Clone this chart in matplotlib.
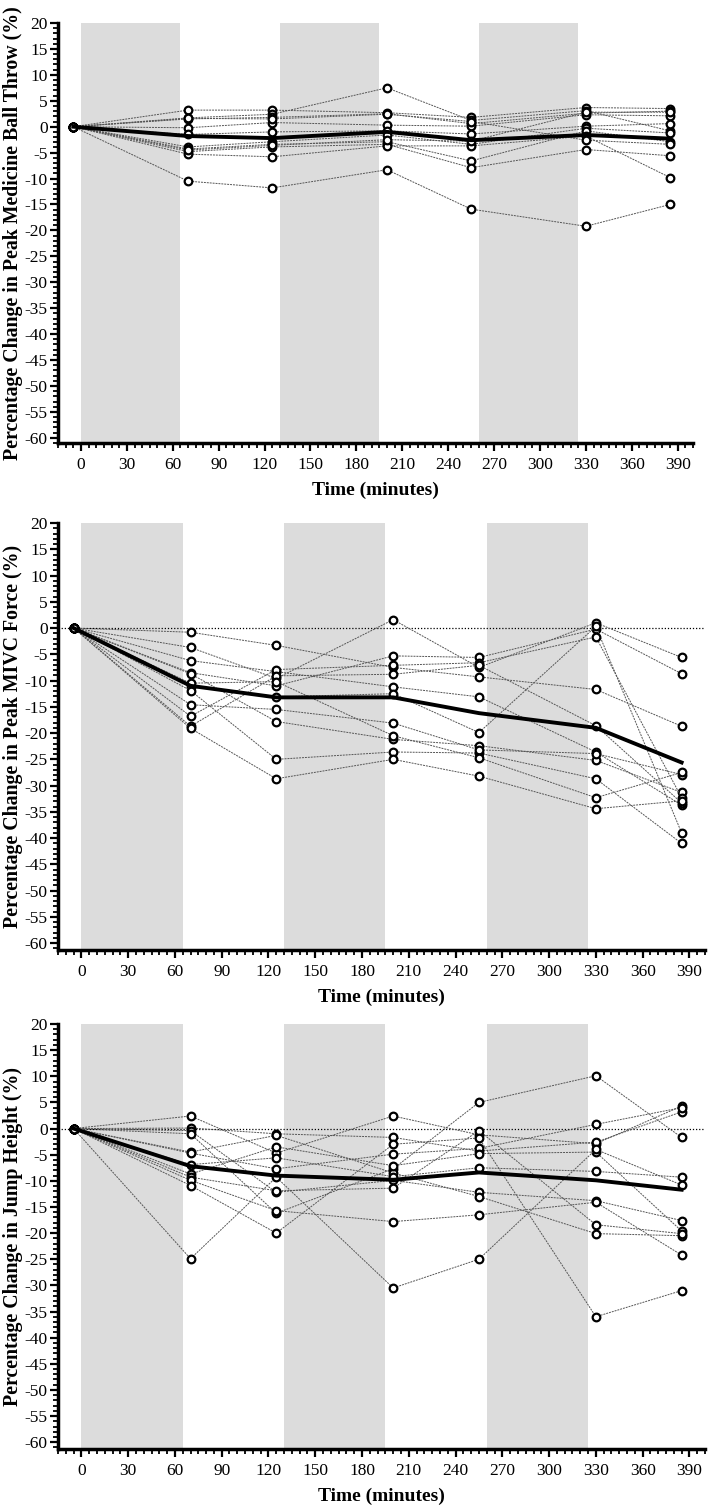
"""
Fatigue time-course panels: individual and mean percentage change.
"""
import numpy as np
import matplotlib
matplotlib.use('Agg')
import matplotlib.pyplot as plt
from matplotlib.ticker import MultipleLocator

# time points (minutes), baseline drawn just left of 0
tims = [-5, 70, 125, 200, 255, 330, 385]
xTicks = list(range(0, 391, 30))
yTicks = list(range(-60, 21, 5))
bouts = [(0, 65), (130, 195), (260, 325)]

# rows = time points, cols = participants
mbtInd = [
    [0] * 12,
    [3.2, 1.7, 1.5, -0.2, -1.5, -3.9, -4.3, -4.8, -5.3, -10.5, 1.6, -4.5],
    [3.2, 2.4, 1.8, 0.8, -1.0, -2.9, -3.4, -3.9, -5.8, -11.8, 1.5, -3.6],
    [2.7, 7.5, 2.5, 0.3, -0.8, -1.6, -2.9, -3.4, -3.7, -8.3, 2.4, -2.5],
    [1.8, 1.2, 0.6, 0.1, -1.4, -3.4, -6.6, -7.9, -3.7, -15.9, 1.0, -2.8],
    [3.7, 3.1, 2.6, 2.3, 0.1, -0.3, -0.8, -4.4, -1.8, -19.2, -2.6, 2.8],
    [3.5, -0.8, 3.0, 2.1, 0.6, -1.2, -2.9, -5.6, -9.8, -15.0, -3.4, 2.8],
]
mbtMean = [0, -1.8, -2.2, -1.0, -2.6, -1.6, -2.3]

mivcInd = [
    [0] * 12,
    [-0.8, -3.7, -6.2, -8.5, -8.7, -11.2, -11.9, -14.6, -16.8, -18.7, -19.1, -10.5],
    [-3.3, -9.6, -8.3, -11.0, -17.8, -13.1, -25.0, -15.5, -7.9, -9.1, -28.7, -10.2],
    [-7.5, 1.6, -11.2, -5.3, -21.2, -12.5, -23.6, -18.1, -7.1, -8.8, -25.0, -20.5],
    [-9.3, -7.5, -13.1, -5.6, -22.4, -19.9, -23.8, -23.2, -6.6, -7.1, -28.2, -24.7],
    [-11.7, 1.0, -23.6, -0.2, -25.2, 0.3, -28.7, -23.9, -1.7, -18.6, -34.4, -32.3],
    [-18.7, -5.6, -33.7, -8.7, -31.3, -39.0, -41.0, -27.9, -32.3, -33.3, -32.9, -27.5],
]
mivcMean = [0, -11.0, -13.2, -13.2, -16.2, -19.0, -25.6]

jmpInd = [
    [0] * 12,
    [2.4, 0.1, -0.4, -1.0, -4.5, -4.7, -6.9, -8.7, -9.3, -9.9, -10.9, -24.9],
    [-4.7, -1.0, -12.2, -16.2, -1.3, -7.7, -5.6, -3.5, -11.9, -15.7, -20.0, -9.3],
    [2.4, -1.7, -9.9, -7.7, -8.5, -4.9, -9.2, -7.1, -11.4, -17.8, -3.0, -30.5],
    [-1.2, -4.3, -12.2, 5.0, -13.0, -3.8, -7.5, -4.8, -0.4, -16.5, -1.8, -25.0],
    [-2.9, -2.6, -13.8, 10.1, -20.1, 0.8, -8.2, -4.5, -18.4, -14.1, -36.0, -4.0],
    [4.3, 3.2, -17.6, -1.7, -20.5, 4.0, -9.3, -19.6, -20.1, -24.2, -31.0, -10.8],
]
jmpMean = [0, -7.2, -9.0, -9.8, -8.4, -9.9, -11.7]

yLabs = ['Percentage Change in Peak Medicine Ball Throw (%)',
         'Percentage Change in Peak MIVC Force (%)',
         'Percentage Change in Jump Height (%)']

plt.rcParams['font.family'] = ['Liberation Serif', 'DejaVu Serif']
plt.rcParams['axes.unicode_minus'] = False


def shPanel(ax, ind, mean, yLab, zeroLn=False):
    """
    Show one panel.

    Input
      ax      -  axes
      ind     -  individual values, nT x nP
      mean    -  mean values, nT
      yLab    -  y label
      zeroLn  -  draw dotted line at 0, {False}
    """
    for x0, x1 in bouts:
        ax.axvspan(x0, x1, color='#dcdcdc', lw=0, zorder=0)

    if zeroLn:
        ax.axhline(0, color='black', ls=(0, (1, 1.5)), lw=0.9, zorder=1)

    ind = np.array(ind)
    for i in range(ind.shape[1]):
        ax.plot(tims, ind[:, i], ls=(0, (2, 1)), color='#555555', lw=0.7,
                marker='o', ms=5.5, mfc='white', mec='black', mew=1.6, zorder=2)

    ax.plot(tims, mean, color='black', lw=2.8, zorder=3)

    ax.set_xlim(-15, 400)
    ax.set_xticks(xTicks)
    ax.xaxis.set_minor_locator(MultipleLocator(5))
    ax.set_yticks(yTicks)
    ax.yaxis.set_minor_locator(MultipleLocator(1))

    for side in ['top', 'right']:
        ax.spines[side].set_visible(False)
    for side in ['left', 'bottom']:
        ax.spines[side].set_linewidth(2.5)

    ax.tick_params(which='major', direction='out', length=6, width=1.6,
                   labelsize=12.5, pad=1.5)
    ax.tick_params(which='minor', direction='out', length=3.5, width=1.3)
    ax.tick_params(axis='x', which='major', pad=4)

    ax.set_xlabel('Time (minutes)', fontsize=14, fontweight='bold', labelpad=6)
    ax.set_ylabel(yLab, fontsize=14.3, fontweight='bold')


fig = plt.figure(figsize=(7.09, 15.09), dpi=100)

rects = [[58 / 709, 1 - 443 / 1509, 635 / 709, 420 / 1509],
         [58 / 709, 1 - 950 / 1509, 647 / 709, 427 / 1509],
         [58 / 709, 1 - 1449 / 1509, 647 / 709, 425 / 1509]]
yLims = [(-61, 20), (-61.3, 20), (-61.3, 20)]
data = [(mbtInd, mbtMean, False), (mivcInd, mivcMean, True), (jmpInd, jmpMean, True)]

for rect, yLim, (ind, mean, zeroLn), yLab in zip(rects, yLims, data, yLabs):
    ax = fig.add_axes(rect)
    shPanel(ax, ind, mean, yLab, zeroLn=zeroLn)
    ax.set_ylim(*yLim)
    ax.yaxis.set_label_coords(-35 / (rect[2] * 709), 0.5)

fig.savefig('out.png', dpi=100)
